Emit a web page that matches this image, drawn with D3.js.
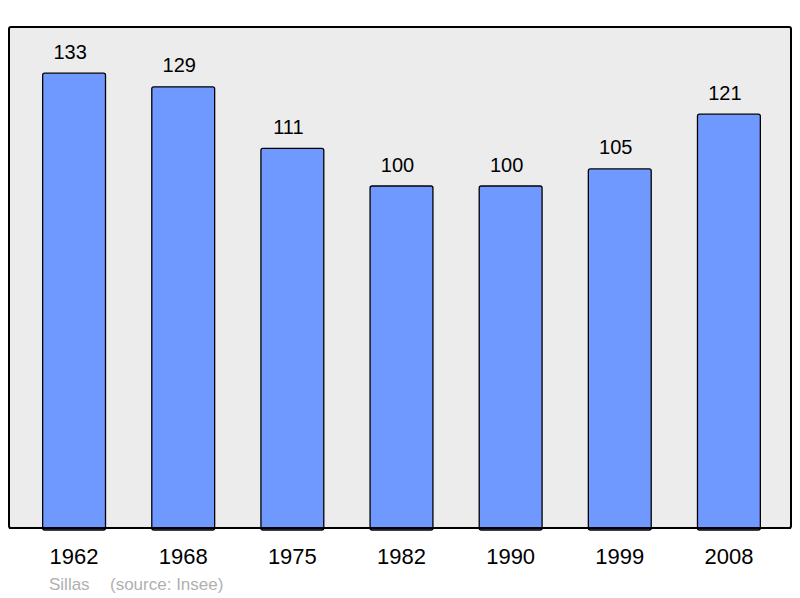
<!DOCTYPE html>
<html>
<head>
<meta charset="utf-8">
<script src="https://cdn.jsdelivr.net/npm/d3@7"></script>
<style>
  body { margin: 0; background: #fff; }
  text { font-family: "Liberation Sans", Arial, sans-serif; }
</style>
</head>
<body>
<script>
'use strict';

var years  = ['1962', '1968', '1975', '1982', '1990', '1999', '2008'];
var values = [133, 129, 111, 100, 100, 105, 121];
var place  = 'Sillas';
var source = '(source: Insee)';

var width = 800, height = 598;
var frame = { left: 9, top: 27, right: 791, bottom: 528 };

var svg = d3.select('body')
  .append('svg')
  .attr('width', width)
  .attr('height', height);

svg.append('rect')
  .attr('x', frame.left)
  .attr('y', frame.top)
  .attr('width', frame.right - frame.left)
  .attr('height', frame.bottom - frame.top)
  .attr('rx', 2)
  .style('fill', '#ececec')
  .style('stroke', '#000')
  .style('stroke-width', '2px');

var x = d3.scaleBand()
  .domain(years)
  .range([frame.left + 2, frame.right + 1])
  .paddingInner(0.424)
  .paddingOuter(0.29);

var y = d3.scaleLinear()
  .domain([0, 146.5])
  .range([frame.bottom, frame.top]);

svg.selectAll('rect.bar')
  .data(values)
  .enter()
  .append('rect')
  .attr('class', 'bar')
  .attr('x', function (d, i) { return x(years[i]); })
  .attr('y', function (d) { return y(d); })
  .attr('width', x.bandwidth())
  .attr('height', function (d) { return frame.bottom - y(d) + 2; })
  .attr('rx', 2)
  .style('fill', '#7099ff')
  .style('stroke', '#000')
  .style('stroke-width', '1.3px');

// redraw frame edge over bar bottoms
svg.append('line')
  .attr('x1', frame.left)
  .attr('x2', frame.right)
  .attr('y1', frame.bottom)
  .attr('y2', frame.bottom)
  .style('stroke', '#000')
  .style('stroke-width', '2px');

svg.selectAll('text.value')
  .data(values)
  .enter()
  .append('text')
  .attr('class', 'value')
  .attr('x', function (d, i) { return x(years[i]) + x.bandwidth() / 2 - 4; })
  .attr('y', function (d) { return y(d) - 14.5; })
  .attr('text-anchor', 'middle')
  .style('font-size', '20px')
  .style('fill', '#000')
  .text(function (d) { return d; });

svg.selectAll('text.year')
  .data(years)
  .enter()
  .append('text')
  .attr('class', 'year')
  .attr('x', function (d) { return x(d) + x.bandwidth() / 2; })
  .attr('y', 564)
  .attr('text-anchor', 'middle')
  .style('font-size', '22px')
  .style('fill', '#000')
  .text(function (d) { return d; });

svg.append('text')
  .attr('x', 49)
  .attr('y', 590)
  .style('font-size', '17px')
  .style('fill', '#b0b0b0')
  .text(place);

svg.append('text')
  .attr('x', 110)
  .attr('y', 590)
  .style('font-size', '17px')
  .style('fill', '#b0b0b0')
  .text(source);
</script>
</body>
</html>
